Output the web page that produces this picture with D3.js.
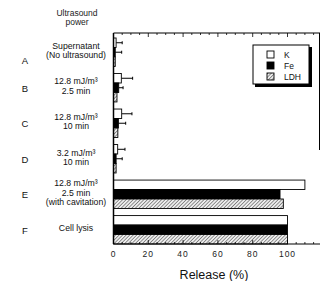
<!DOCTYPE html>
<html>
<head>
<meta charset="utf-8">
<script src="https://cdn.jsdelivr.net/npm/d3@7"></script>
<style>
  body { margin: 0; background: #fff; }
  svg { display: block; font-family: "Liberation Sans", Arial, sans-serif; }
</style>
</head>
<body>
<div id="chart"></div>
<script>
// categories (letters + label lines)
var letters = ["A", "B", "C", "D", "E", "F"];
var conditions = [
    ["Supernatant", "(No ultrasound)"],
    ["12.8 mJ/m\u00b3", "2.5 min"],
    ["12.8 mJ/m\u00b3", "10 min"],
    ["3.2 mJ/m\u00b3", "10 min"],
    ["12.8 mJ/m\u00b3", "2.5 min", "(with cavitation)"],
    ["Cell lysis"]
];
var series = ["K", "Fe", "LDH"];

// release values (%)
var kValues = [1.5, 4.5, 4.7, 2.4, 110, 100];
var feValues = [1.0, 3.0, 2.8, 1.5, 95.7, 100];
var ldhValues = [1.0, 2.0, 2.5, 1.5, 97.6, 100];
// upper end of error bars (null = none)
var kErr = [5, 11, 10.6, 6.6, null, null];
var feErr = [4.7, 5.5, 7, 5, null, null];
var ldhErr = [null, null, null, null, null, null];

var xTicks = [0, 20, 40, 60, 80, 100];

var width = 321, height = 281;
var plot = { left: 113.5, right: 320, top: 33, bottom: 244 };

var svg = d3.select("#chart").append("svg")
    .attr("width", width)
    .attr("height", height);

// hatch pattern for LDH
var defs = svg.append("defs");
var pat = defs.append("pattern")
    .attr("id", "hatch")
    .attr("patternUnits", "userSpaceOnUse")
    .attr("width", 2.5)
    .attr("height", 2.5)
    .attr("patternTransform", "rotate(45)");
pat.append("rect").attr("width", 2.5).attr("height", 2.5).attr("fill", "#eee");
pat.append("line")
    .attr("x1", 0).attr("y1", 0).attr("x2", 0).attr("y2", 2.5)
    .attr("stroke", "#444").attr("stroke-width", 1.1);

var x = d3.scaleLinear()
    .domain([0, 100])
    .range([plot.left, 287.5]);

var y = d3.scaleBand()
    .domain(letters)
    .range([38, 244])
    .paddingInner(0.2)
    .paddingOuter(0);

var ySub = d3.scaleBand()
    .domain(series)
    .range([0, y.bandwidth()]);

var fills = { K: "#fff", Fe: "#000", LDH: "url(#hatch)" };

var rows = letters.map(function (l, i) {
    return [
        { cat: l, s: "K", v: kValues[i], e: kErr[i] },
        { cat: l, s: "Fe", v: feValues[i], e: feErr[i] },
        { cat: l, s: "LDH", v: ldhValues[i], e: ldhErr[i] }
    ];
});
var bars = [].concat.apply([], rows);

// error bars (drawn first so bars sit on top)
var errs = svg.append("g").selectAll("g")
    .data(bars.filter(function (d) { return d.e != null; }))
    .enter().append("g");
errs.append("line")
    .attr("x1", function (d) { return x(d.v); })
    .attr("x2", function (d) { return x(d.e); })
    .attr("y1", function (d) { return y(d.cat) + ySub(d.s) + ySub.bandwidth() / 2; })
    .attr("y2", function (d) { return y(d.cat) + ySub(d.s) + ySub.bandwidth() / 2; })
    .attr("stroke", "#000").attr("stroke-width", 1);
errs.append("line")
    .attr("x1", function (d) { return x(d.e); })
    .attr("x2", function (d) { return x(d.e); })
    .attr("y1", function (d) { return y(d.cat) + ySub(d.s) + ySub.bandwidth() / 2 - 1.5; })
    .attr("y2", function (d) { return y(d.cat) + ySub(d.s) + ySub.bandwidth() / 2 + 1.5; })
    .attr("stroke", "#000").attr("stroke-width", 1);

// bars
svg.append("g").selectAll("rect")
    .data(bars)
    .enter().append("rect")
    .attr("x", x(0))
    .attr("y", function (d) { return y(d.cat) + ySub(d.s); })
    .attr("width", function (d) { return x(d.v) - x(0); })
    .attr("height", ySub.bandwidth())
    .attr("fill", function (d) { return fills[d.s]; })
    .attr("stroke", "#000")
    .attr("stroke-width", 0.9);

// frame
var frame = svg.append("g").attr("stroke", "#000").attr("fill", "none");
frame.append("line").attr("x1", plot.left).attr("x2", plot.right)
    .attr("y1", plot.top).attr("y2", plot.top).attr("stroke-width", 1.2);
frame.append("line").attr("x1", plot.left).attr("x2", plot.right)
    .attr("y1", plot.bottom).attr("y2", plot.bottom).attr("stroke-width", 1.2);
frame.append("line").attr("x1", plot.left).attr("x2", plot.left)
    .attr("y1", plot.top).attr("y2", plot.bottom).attr("stroke-width", 1.5);
frame.append("line").attr("x1", plot.right - 0.5).attr("x2", plot.right - 0.5)
    .attr("y1", plot.top).attr("y2", 150).attr("stroke-width", 1);

// ticks (inward, top and bottom)
var minor = d3.range(0, 120, 5);
var tickG = svg.append("g").attr("stroke", "#000").attr("stroke-width", 0.8);
minor.forEach(function (t) {
    var len = (t % 20 === 0) ? 4 : 2;
    tickG.append("line").attr("x1", x(t)).attr("x2", x(t))
        .attr("y1", plot.top).attr("y2", plot.top + len);
    tickG.append("line").attr("x1", x(t)).attr("x2", x(t))
        .attr("y1", plot.bottom).attr("y2", plot.bottom - len);
});

// tick labels
svg.append("g").selectAll("text")
    .data(xTicks)
    .enter().append("text")
    .attr("x", function (d) { return x(d); })
    .attr("y", 257)
    .attr("text-anchor", "middle")
    .attr("font-size", "8.5px")
    .attr("letter-spacing", "1px")
    .attr("fill", "#222")
    .text(function (d) { return d; });

svg.append("text")
    .attr("x", 214)
    .attr("y", 279)
    .attr("text-anchor", "middle")
    .attr("font-size", "12.5px")
    .attr("fill", "#111")
    .text("Release (%)");

// left header
svg.append("text").attr("x", 77).attr("y", 16)
    .attr("text-anchor", "middle").attr("font-size", "8.5px").attr("fill", "#222")
    .text("Ultrasound");
svg.append("text").attr("x", 77).attr("y", 25)
    .attr("text-anchor", "middle").attr("font-size", "8.5px").attr("fill", "#222")
    .text("power");

// category letters and condition labels
var catG = svg.append("g").selectAll("g")
    .data(letters)
    .enter().append("g");
catG.append("text")
    .attr("x", 25)
    .attr("y", function (d, i) { return y(d) + y.bandwidth() / 2 + (i === 0 ? 12 : 4); })
    .attr("text-anchor", "middle")
    .attr("font-size", "9.5px")
    .attr("fill", "#111")
    .text(function (d) { return d; });
catG.each(function (d, i) {
    var lines = conditions[i];
    var cy = y(d) + y.bandwidth() / 2 - 1.5;
    var y0 = cy - (lines.length - 1) * 9.5 / 2 + 3;
    var g = d3.select(this);
    lines.forEach(function (t, j) {
        g.append("text")
            .attr("x", 76)
            .attr("y", y0 + j * 9.5)
            .attr("text-anchor", "middle")
            .attr("font-size", "8.7px")
            .attr("fill", "#111")
            .text(t);
    });
});

// legend
var lg = svg.append("g").attr("transform", "translate(253,45)");
lg.append("rect").attr("x", 2).attr("y", 2).attr("width", 57).attr("height", 40)
    .attr("fill", "#000");
lg.append("rect").attr("x", 0).attr("y", 0).attr("width", 56).attr("height", 39)
    .attr("fill", "#fff").attr("stroke", "#000").attr("stroke-width", 1);
series.forEach(function (s, i) {
    var yy = 6 + i * 11;
    lg.append("rect").attr("x", 14).attr("y", yy).attr("width", 7).attr("height", 7)
        .attr("fill", fills[s]).attr("stroke", "#000").attr("stroke-width", 0.9);
    lg.append("text").attr("x", 31).attr("y", yy + 7)
        .attr("font-size", "8.5px").attr("fill", "#111")
        .text(s);
});
</script>
</body>
</html>
